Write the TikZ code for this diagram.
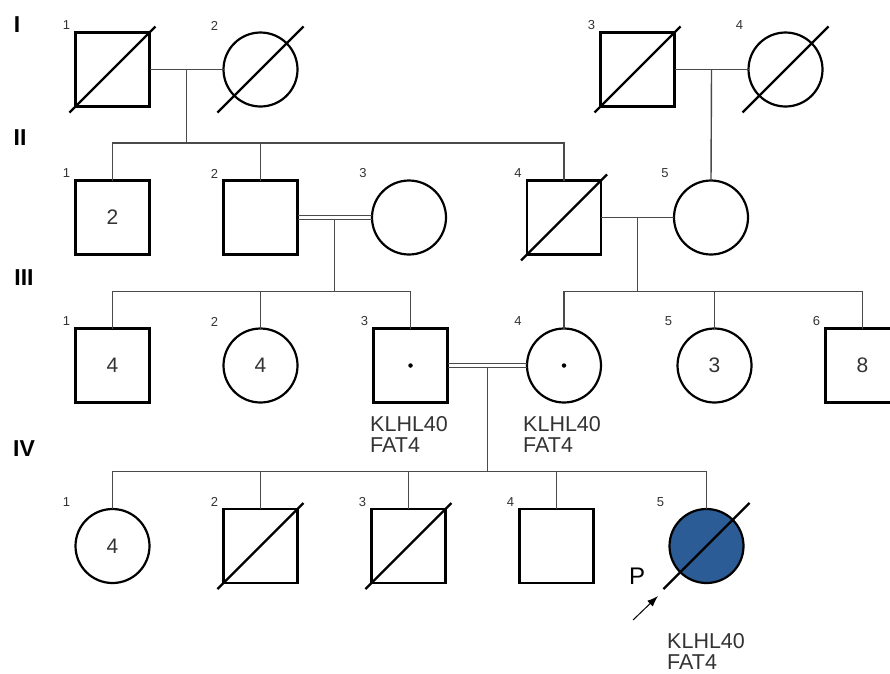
\documentclass[tikz,border=0pt]{standalone}
\usepackage{fontspec}
\setmainfont{Liberation Sans}
\usetikzlibrary{calc,arrows.meta}
\definecolor{affblue}{HTML}{2C5C96}
\definecolor{conn}{HTML}{4A4A4A}
\definecolor{txt}{HTML}{333333}
\begin{document}
\begin{tikzpicture}[x=1pt,y=-1pt,
  male/.style={draw=black,line width=2.2pt,rectangle,minimum size=74pt,inner sep=0pt,outer sep=0pt,font=\fontsize{21}{21}\selectfont,text=txt},
  female/.style={draw=black,line width=2.2pt,circle,minimum size=74pt,inner sep=0pt,outer sep=0pt,font=\fontsize{21}{21}\selectfont,text=txt},
  affected/.style={fill=affblue},
  link/.style={draw=conn,line width=1.4pt},
  slash/.style={draw=black,line width=2.2pt},
  num/.style={font=\fontsize{13}{13}\selectfont,text=txt,inner sep=0pt},
  gen/.style={font=\bfseries\fontsize{23}{23}\selectfont,inner sep=0pt},
  gene/.style={font=\fontsize{21.5}{21.6}\selectfont,text=txt,align=left,inner sep=0pt,anchor=north west},
  carrier/.style={fill=black,circle,inner sep=0pt,minimum size=4.5pt}
]
\useasboundingbox (0,0) rectangle (890,673);
\fill[white] (0,0) rectangle (890,673);

% generation labels
\node[gen] (gI) at (17,25) {I};
\node[gen] (gII) at (20,138) {II};
\node[gen] (gIII) at (24,278) {III};
\node[gen] (gIV) at (24,449) {IV};

% Generation I
\node[male] (I1) at (112.5,69.5) {};
\node[female] (I2) at (260.5,69.5) {};
\node[male] (I3) at (637.5,69.5) {};
\node[female] (I4) at (785.5,69.5) {};
% Generation II
\node[male] (II1) at (112.5,217.5) {2};
\node[male] (II2) at (260.5,217.5) {};
\node[female] (II3) at (409,217.5) {};
\node[male] (II4) at (564,217.5) {};
\node[female] (II5) at (711,217.5) {};
% Generation III
\node[male] (III1) at (112.5,365.5) {4};
\node[female] (III2) at (260.5,365.5) {4};
\node[male] (III3) at (410.5,365.5) {};
\node[female] (III4) at (564,365.5) {};
\node[female] (III5) at (714.5,365.5) {3};
\node[male] (III6) at (862.5,365.5) {8};
% Generation IV
\node[female] (IV1) at (112.5,546) {4};
\node[male] (IV2) at (260.5,546) {};
\node[male] (IV3) at (408.5,546) {};
\node[male] (IV4) at (556.5,546) {};
\node[female,affected] (IV5) at (706.5,546) {};

% carrier dots
\node[carrier] (d3) at (III3.center) {};
\node[carrier] (d4) at (III4.center) {};

% deceased slashes
\foreach \n in {I1,I2,I3,I4,II4,IV2,IV3,IV5}{
  \draw[slash] ($(\n.center)+(-43,43)$) -- ($(\n.center)+(43,-43)$);
}

% individual numbers
\foreach \n/\t in {I1/1,I2/2,I3/3,I4/4,II1/1,II2/2,II3/3,II4/4,II5/5,III1/1,III2/2,III3/3,III4/4,III5/5,III6/6,IV1/1,IV2/2,IV3/3,IV4/4,IV5/5}{
  \node[num] (n\n) at ($(\n.center)+(-46,-44)$) {\t};
}

% Gen I marriages and descents
\draw[link] (I1.east) -- (I2.west);
\coordinate (m1) at ($(I1.east)!0.5!(I2.west)$);
\coordinate (s2) at ($(m1)+(0,73.5)$);
\draw[link] (m1) -- (s2);
\draw[link] (II1.north) |- (II4.north |- s2) -- (II4.north);
\draw[link] (II2.north) -- (II2.north |- s2);

\draw[link] (I3.east) -- (I4.west);
\coordinate (m2) at ($(I3.east)!0.5!(I4.west)$);
\draw[link] (m2) -- (II5.north);

% Gen II consanguineous marriage
\draw[link] ($(II2.east)+(0,-2)$) -- ($(II3.west)+(0,-2)$);
\draw[link] ($(II2.east)+(0,2)$) -- ($(II3.west)+(0,2)$);
\coordinate (m3) at ($(II2.east)!0.5!(II3.west)+(0,2)$);
\coordinate (s3) at ($(III1.north)+(0,-37)$);
\draw[link] (m3) -- (m3 |- s3);
\draw[link] (III1.north) |- (III3.north |- s3) -- (III3.north);
\draw[link] (III2.north) -- (III2.north |- s3);

% Gen II marriage right
\draw[link] (II4.east) -- (II5.west);
\coordinate (m4) at ($(II4.east)!0.5!(II5.west)$);
\draw[link] (m4) -- (m4 |- s3);
\draw[link] (III4.north) |- (III6.north |- s3) -- (III6.north);
\draw[link] (III5.north) -- (III5.north |- s3);

% Gen III consanguineous marriage
\draw[link] ($(III3.east)+(0,-2)$) -- ($(III4.west)+(0,-2)$);
\draw[link] ($(III3.east)+(0,2)$) -- ($(III4.west)+(0,2)$);
\coordinate (m5) at ($(III3.east)!0.5!(III4.west)+(0,2)$);
\coordinate (s4) at ($(IV1.north)+(0,-37.5)$);
\draw[link] (m5) -- (m5 |- s4);
\draw[link] (IV1.north) |- (IV5.north |- s4) -- (IV5.north);
\foreach \n in {IV2,IV3,IV4}{
  \draw[link] (\n.north) -- (\n.north |- s4);
}

% gene labels
\node[gene] (g3) at ($(III3.center)+(-40.5,50.5)$) {KLHL40\\FAT4};
\node[gene] (g4) at ($(III4.center)+(-41,50.5)$) {KLHL40\\FAT4};
\node[gene] (g5) at ($(IV5.center)+(-39.5,87)$) {KLHL40\\FAT4};

% proband
\node[font=\fontsize{24}{24}\selectfont,inner sep=0pt] (P) at (637,576) {P};
\coordinate (pt) at (633,620);
\coordinate (ph) at (658,596);
\draw[line width=1pt,-{Latex[length=11pt,width=8pt]}] (pt) -- (ph);
\end{tikzpicture}
\end{document}
